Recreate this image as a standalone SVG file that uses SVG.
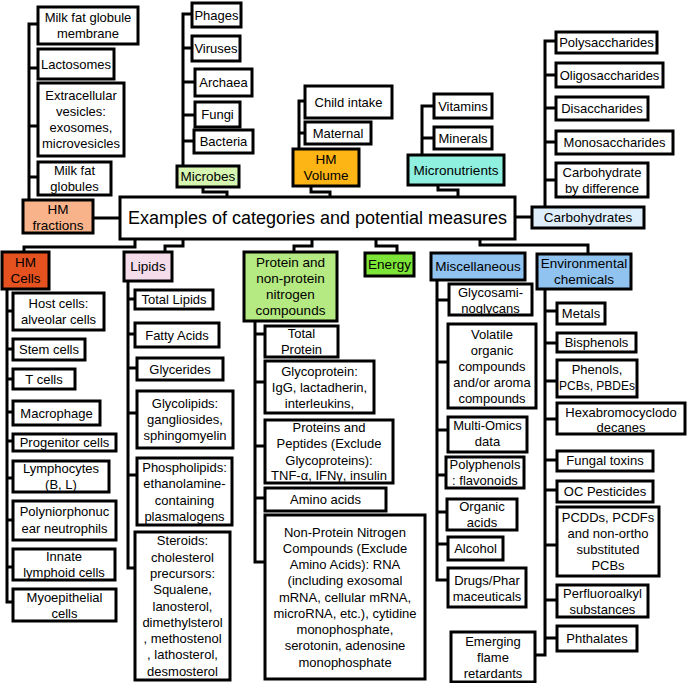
<svg xmlns="http://www.w3.org/2000/svg" width="688" height="683" viewBox="0 0 688 683">
<style>
.b{fill:#fff;stroke:#000;stroke-width:3}
.t{font-family:"Liberation Sans",Arial,sans-serif;font-size:13px;text-anchor:middle;fill:#000}
.c{font-size:13.5px}
.m{font-size:18px}
.ln{fill:none;stroke:#000;stroke-width:3;stroke-linejoin:miter;stroke-linecap:square}
</style>
<rect x="0" y="0" width="688" height="683" fill="#fff"/>
<g id="connectors">
<path class="ln" d="M38,24H29V200M29,68H38M29,126H38M29,177H38M93,218H120"/>
<path class="ln" d="M192,14H183V166M183,48H192M183,82H195M183,115H195M183,141H194M203,187V192H227V197"/>
<path class="ln" d="M305,101H299V149M299,133H305M311,186V192H330V197"/>
<path class="ln" d="M434,106H422V155M422,138H434M438,185V190H458V197"/>
<path class="ln" d="M556,41H545V207M545,75H556M545,108H556M545,142H556M545,180H556M515,217H532"/>
<path class="ln" d="M135,239V247H24V252M7,289V602H13M7,311H13M7,349H13M7,379H13M7,412H13M7,441H13M7,478H13M7,520H13M7,567H13"/>
<path class="ln" d="M183,239V246H165V252M128,281V568H135M128,299H135M128,334H135M128,368H137M128,413H137M128,475H137"/>
<path class="ln" d="M312,239V246H294V252M376,239V246H397V253M255,321V562H265M255,334H265M255,382H265M255,446H265M255,498H265"/>
<path class="ln" d="M480,239V245H588V254M437,281V580H448M437,300H449M437,362H448M437,430H448M437,475H446M437,512H447M437,544H448"/>
<path class="ln" d="M545,289V655H535M545,311H557M545,343H557M545,381H557M545,419H557M545,460H557M545,490H557M545,545H557M545,600H557M545,638H557"/>
</g>
<g id="main"><rect class="b" x="120" y="197" width="395" height="42"/><text class="t m" x="317.5" y="224.3">Examples of categories and potential measures</text></g>
<g id="hm-fractions"><rect class="b" x="23" y="200" width="70" height="33" style="fill:#f9b38a"/><text class="t c"><tspan x="58" y="213.5">HM</tspan><tspan x="58" y="229.5">fractions</tspan></text></g>
<g id="mfgm"><rect class="b" x="38" y="7" width="100" height="37"/><text class="t"><tspan x="88" y="22">Milk fat globule</tspan><tspan x="88" y="38">membrane</tspan></text></g>
<g id="lactosomes"><rect class="b" x="38" y="49" width="76" height="30"/><text class="t" x="76" y="68.5">Lactosomes</text></g>
<g id="ev"><rect class="b" x="38" y="83" width="86" height="73"/><text class="t"><tspan x="81" y="100">Extracellular</tspan><tspan x="81" y="116">vesicles:</tspan><tspan x="81" y="132">exosomes,</tspan><tspan x="81" y="148">microvesicles</tspan></text></g>
<g id="mfg"><rect class="b" x="38" y="162" width="73" height="33"/><text class="t"><tspan x="74.5" y="175">Milk fat</tspan><tspan x="74.5" y="191">globules</tspan></text></g>
<g id="microbes"><rect class="b" x="177" y="166" width="62" height="21" style="fill:#d5f5b1"/><text class="t c" x="208" y="181.2">Microbes</text></g>
<g id="phages"><rect class="b" x="192" y="3" width="49" height="24"/><text class="t" x="216.5" y="19.5">Phages</text></g>
<g id="viruses"><rect class="b" x="192" y="36" width="48" height="25"/><text class="t" x="216" y="53">Viruses</text></g>
<g id="archaea"><rect class="b" x="195" y="69" width="57" height="27"/><text class="t" x="223.5" y="87">Archaea</text></g>
<g id="fungi"><rect class="b" x="195" y="102" width="45" height="25"/><text class="t" x="217.5" y="119">Fungi</text></g>
<g id="bacteria"><rect class="b" x="194" y="130" width="59" height="23"/><text class="t" x="223.5" y="146">Bacteria</text></g>
<g id="hm-volume"><rect class="b" x="293" y="149" width="66" height="37" style="fill:#fdb515"/><text class="t c"><tspan x="326" y="164.2">HM</tspan><tspan x="326" y="180.2">Volume</tspan></text></g>
<g id="child-intake"><rect class="b" x="305" y="86" width="87" height="32"/><text class="t" x="348.5" y="106.5">Child intake</text></g>
<g id="maternal"><rect class="b" x="305" y="122" width="66" height="22"/><text class="t" x="338" y="137.5">Maternal</text></g>
<g id="micronutrients"><rect class="b" x="408" y="155" width="96" height="30" style="fill:#8ff0df"/><text class="t c" x="456" y="174.7">Micronutrients</text></g>
<g id="vitamins"><rect class="b" x="434" y="94" width="58" height="24"/><text class="t" x="463" y="110.5">Vitamins</text></g>
<g id="minerals"><rect class="b" x="434" y="127" width="58" height="22"/><text class="t" x="463" y="142.5">Minerals</text></g>
<g id="carbohydrates"><rect class="b" x="532" y="207" width="112" height="21" style="fill:#deeefb"/><text class="t c" x="588" y="222.2">Carbohydrates</text></g>
<g id="polysaccharides"><rect class="b" x="556" y="32" width="101" height="21"/><text class="t" x="606.5" y="47">Polysaccharides</text></g>
<g id="oligosaccharides"><rect class="b" x="556" y="63" width="107" height="24"/><text class="t" x="609.5" y="79.5">Oligosaccharides</text></g>
<g id="disaccharides"><rect class="b" x="556" y="97" width="92" height="23"/><text class="t" x="602" y="113">Disaccharides</text></g>
<g id="monosaccharides"><rect class="b" x="556" y="131" width="117" height="23"/><text class="t" x="614.5" y="147">Monosaccharides</text></g>
<g id="carb-diff"><rect class="b" x="556" y="163" width="92" height="34"/><text class="t"><tspan x="602" y="176.5">Carbohydrate</tspan><tspan x="602" y="192.5">by difference</tspan></text></g>
<g id="hm-cells"><rect class="b" x="2" y="252" width="47" height="37" style="fill:#e6521f"/><text class="t c"><tspan x="25.5" y="267.2">HM</tspan><tspan x="25.5" y="283.2">Cells</tspan></text></g>
<g id="host-cells"><rect class="b" x="13" y="293" width="91" height="37"/><text class="t"><tspan x="58.5" y="308">Host cells:</tspan><tspan x="58.5" y="324">alveolar cells</tspan></text></g>
<g id="stem-cells"><rect class="b" x="13" y="339" width="72" height="21"/><text class="t" x="49" y="354">Stem cells</text></g>
<g id="t-cells"><rect class="b" x="13" y="369" width="62" height="20"/><text class="t" x="44" y="383.5">T cells</text></g>
<g id="macrophage"><rect class="b" x="13" y="401" width="87" height="24"/><text class="t" x="56.5" y="417.5">Macrophage</text></g>
<g id="progenitor"><rect class="b" x="13" y="434" width="103" height="17"/><text class="t" x="64.5" y="447">Progenitor cells</text></g>
<g id="lymphocytes"><rect class="b" x="13" y="461" width="96" height="31"/><text class="t"><tspan x="61" y="473">Lymphocytes</tspan><tspan x="61" y="489">(B, L)</tspan></text></g>
<g id="polymorph"><rect class="b" x="13" y="501" width="103" height="39"/><text class="t"><tspan x="64.5" y="516">Polyniorphonuc</tspan><tspan x="64.5" y="533">ear neutrophils</tspan></text></g>
<g id="innate"><rect class="b" x="13" y="549" width="102" height="31"/><text class="t"><tspan x="64" y="561">Innate</tspan><tspan x="64" y="577">lymphoid cells</tspan></text></g>
<g id="myoepithelial"><rect class="b" x="13" y="589" width="103" height="32"/><text class="t"><tspan x="64.5" y="602">Myoepithelial</tspan><tspan x="64.5" y="618">cells</tspan></text></g>
<g id="lipids"><rect class="b" x="124" y="252" width="48" height="29" style="fill:#f4dcea"/><text class="t c" x="148" y="271.2">Lipids</text></g>
<g id="total-lipids"><rect class="b" x="135" y="290" width="78" height="19"/><text class="t" x="174" y="304">Total Lipids</text></g>
<g id="fatty-acids"><rect class="b" x="135" y="323" width="84" height="24"/><text class="t" x="177" y="339.5">Fatty Acids</text></g>
<g id="glycerides"><rect class="b" x="137" y="358" width="86" height="22"/><text class="t" x="180" y="373.5">Glycerides</text></g>
<g id="glycolipids"><rect class="b" x="137" y="391" width="96" height="57"/><text class="t"><tspan x="185" y="408">Glycolipids:</tspan><tspan x="185" y="424">gangliosides,</tspan><tspan x="185" y="440">sphingomyelin</tspan></text></g>
<g id="phospholipids"><rect class="b" x="137" y="458" width="95" height="67"/><text class="t"><tspan x="184.5" y="472">Phospholipids:</tspan><tspan x="184.5" y="488">ethanolamine-</tspan><tspan x="184.5" y="504.5">containing</tspan><tspan x="184.5" y="520.5">plasmalogens</tspan></text></g>
<g id="steroids"><rect class="b" x="135" y="532" width="95" height="148"/><text class="t"><tspan x="182.5" y="545.3">Steroids:</tspan><tspan x="182.5" y="561.6">cholesterol</tspan><tspan x="182.5" y="577.9">precursors:</tspan><tspan x="182.5" y="594.2">Squalene,</tspan><tspan x="182.5" y="610.5">lanosterol,</tspan><tspan x="182.5" y="626.8">dimethylsterol</tspan><tspan x="182.5" y="643.1">, methostenol</tspan><tspan x="182.5" y="659.4">, lathosterol,</tspan><tspan x="182.5" y="675.7">desmosterol</tspan></text></g>
<g id="protein"><rect class="b" x="244" y="252" width="93" height="69" style="fill:#b5e981"/><text class="t c"><tspan x="290.5" y="267.2">Protein and</tspan><tspan x="290.5" y="283.2">non-protein</tspan><tspan x="290.5" y="299.2">nitrogen</tspan><tspan x="290.5" y="315.2">compounds</tspan></text></g>
<g id="energy"><rect class="b" x="365" y="253" width="49" height="23" style="fill:#7de537"/><text class="t c" x="389.5" y="269.2">Energy</text></g>
<g id="total-protein"><rect class="b" x="265" y="326" width="73" height="31"/><text class="t"><tspan x="301.5" y="337.5">Total</tspan><tspan x="301.5" y="353.5">Protein</tspan></text></g>
<g id="glycoprotein"><rect class="b" x="265" y="361" width="109" height="52"/><text class="t"><tspan x="319.5" y="375.5">Glycoprotein:</tspan><tspan x="319.5" y="391.5">IgG, lactadherin,</tspan><tspan x="319.5" y="407.5">interleukins,</tspan></text></g>
<g id="peptides"><rect class="b" x="265" y="420" width="128" height="63"/><text class="t"><tspan x="329" y="432">Proteins and</tspan><tspan x="329" y="448">Peptides (Exclude</tspan><tspan x="329" y="464.5">Glycoproteins):</tspan><tspan x="329" y="480">TNF-α, IFNγ, insulin</tspan></text></g>
<g id="amino-acids"><rect class="b" x="265" y="488" width="121" height="23"/><text class="t" x="325.5" y="504">Amino acids</text></g>
<g id="npn"><rect class="b" x="265" y="515" width="160" height="164"/><text class="t"><tspan x="345" y="536.5">Non-Protein Nitrogen</tspan><tspan x="345" y="552.75">Compounds (Exclude</tspan><tspan x="345" y="569">Amino Acids): RNA</tspan><tspan x="345" y="585.25">(including exosomal</tspan><tspan x="345" y="601.5">mRNA, cellular mRNA,</tspan><tspan x="345" y="617.75">microRNA, etc.), cytidine</tspan><tspan x="345" y="634">monophosphate,</tspan><tspan x="345" y="650.25">serotonin, adenosine</tspan><tspan x="345" y="666.5">monophosphate</tspan></text></g>
<g id="miscellaneous"><rect class="b" x="431" y="253" width="94" height="27" style="fill:#91c3f0"/><text class="t c" x="478" y="271">Miscellaneous</text></g>
<g id="gag"><rect class="b" x="449" y="284" width="83" height="31"/><text class="t"><tspan x="490.5" y="297">Glycosami-</tspan><tspan x="490.5" y="312.5">noglycans</tspan></text></g>
<g id="voc"><rect class="b" x="448" y="324" width="88" height="84"/><text class="t"><tspan x="492" y="338.5">Volatile</tspan><tspan x="492" y="354.5">organic</tspan><tspan x="492" y="370.5">compounds</tspan><tspan x="492" y="386.5">and/or aroma</tspan><tspan x="492" y="402.5">compounds</tspan></text></g>
<g id="omics"><rect class="b" x="448" y="417" width="79" height="35"/><text class="t"><tspan x="487.5" y="429.5">Multi-Omics</tspan><tspan x="487.5" y="445.5">data</tspan></text></g>
<g id="polyphenols"><rect class="b" x="446" y="457" width="78" height="31"/><text class="t"><tspan x="485" y="468.5">Polyphenols</tspan><tspan x="485" y="484.5">: flavonoids</tspan></text></g>
<g id="organic-acids"><rect class="b" x="447" y="499" width="70" height="31"/><text class="t"><tspan x="482" y="511">Organic</tspan><tspan x="482" y="527">acids</tspan></text></g>
<g id="alcohol"><rect class="b" x="448" y="537" width="55" height="23"/><text class="t" x="475.5" y="553">Alcohol</text></g>
<g id="drugs"><rect class="b" x="448" y="568" width="78" height="39"/><text class="t"><tspan x="487" y="584.5">Drugs/Phar</tspan><tspan x="487" y="600.5">maceuticals</tspan></text></g>
<g id="environmental"><rect class="b" x="537" y="254" width="94" height="35" style="fill:#91c3f0"/><text class="t c"><tspan x="584" y="268.2">Environmental</tspan><tspan x="584" y="284.2">chemicals</tspan></text></g>
<g id="metals"><rect class="b" x="557" y="303" width="48" height="21"/><text class="t" x="581" y="318">Metals</text></g>
<g id="bisphenols"><rect class="b" x="557" y="333" width="79" height="19"/><text class="t" x="596.5" y="347">Bisphenols</text></g>
<g id="phenols"><rect class="b" x="557" y="360" width="80" height="37"/><text class="t"><tspan x="597" y="373.5">Phenols,</tspan><tspan x="597" y="389.5" style="font-size:12px">PCBs, PBDEs</tspan></text></g>
<g id="hbcd"><rect class="b" x="557" y="403" width="128" height="31"/><text class="t"><tspan x="621" y="416.5">Hexabromocyclodo</tspan><tspan x="621" y="432">decanes</tspan></text></g>
<g id="fungal-toxins"><rect class="b" x="557" y="451" width="96" height="20"/><text class="t" x="605" y="465">Fungal toxins</text></g>
<g id="oc-pesticides"><rect class="b" x="557" y="481" width="96" height="21"/><text class="t" x="605" y="496">OC Pesticides</text></g>
<g id="pcdds"><rect class="b" x="557" y="507" width="102" height="69"/><text class="t"><tspan x="608" y="522">PCDDs, PCDFs</tspan><tspan x="608" y="538">and non-ortho</tspan><tspan x="608" y="554">substituted</tspan><tspan x="608" y="570">PCBs</tspan></text></g>
<g id="pfas"><rect class="b" x="557" y="585" width="91" height="32"/><text class="t"><tspan x="602.5" y="597.5">Perfluoroalkyl</tspan><tspan x="602.5" y="613.5">substances</tspan></text></g>
<g id="phthalates"><rect class="b" x="557" y="626" width="80" height="25"/><text class="t" x="597" y="643">Phthalates</text></g>
<g id="flame-retardants"><rect class="b" x="451" y="632" width="84" height="50"/><text class="t"><tspan x="493" y="645.5">Emerging</tspan><tspan x="493" y="661.5">flame</tspan><tspan x="493" y="677.5">retardants</tspan></text></g>
</svg>
